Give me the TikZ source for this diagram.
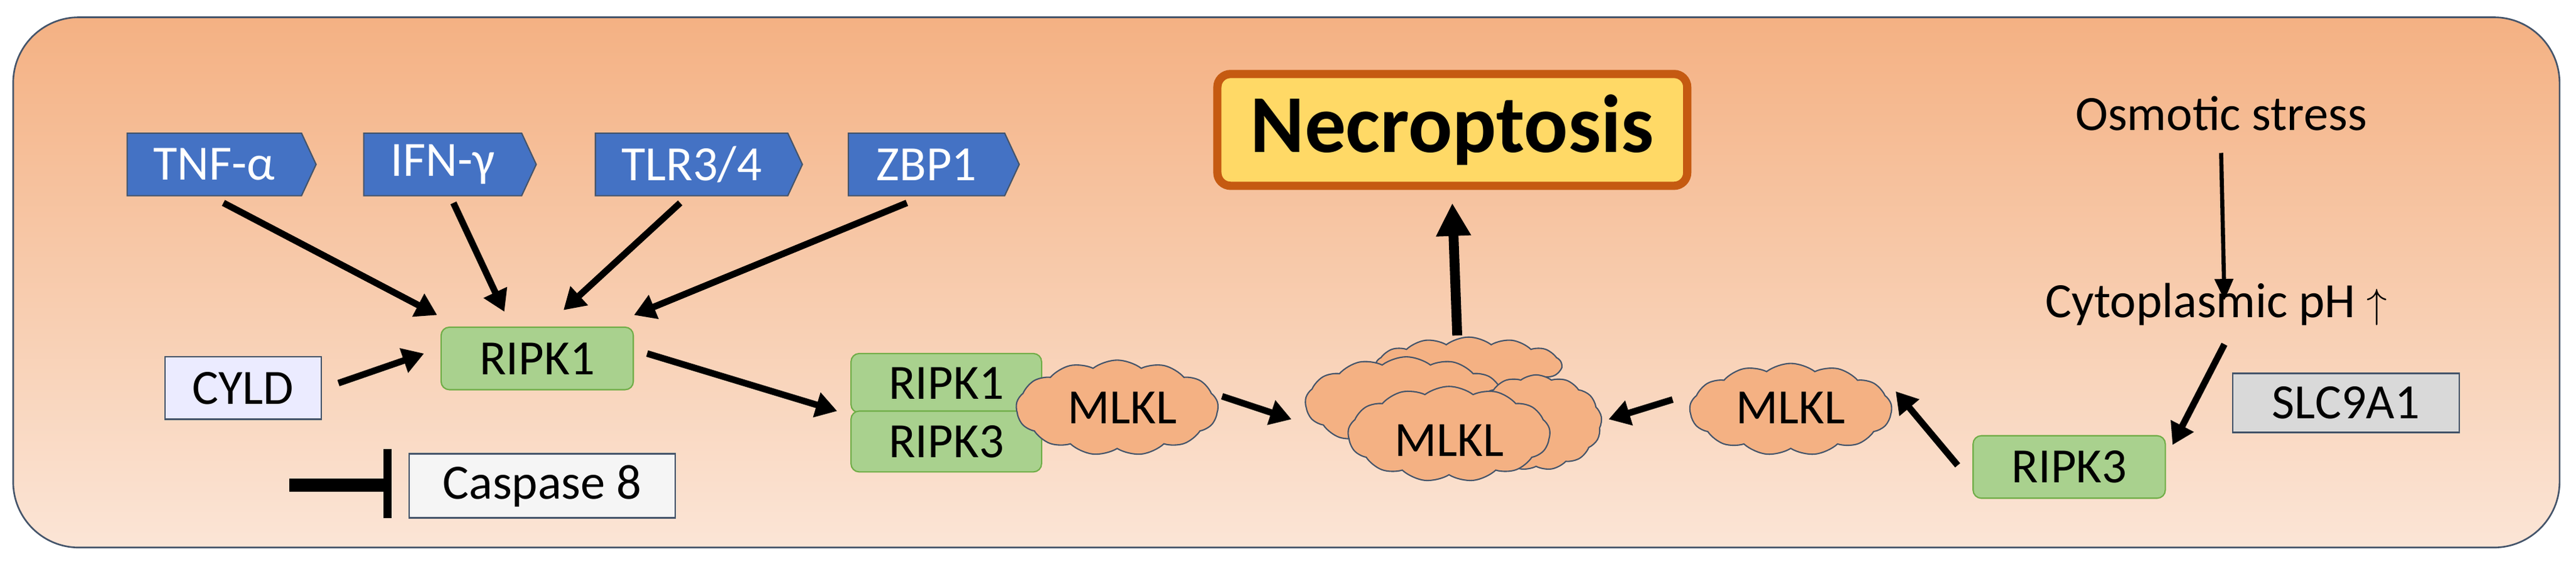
\documentclass[tikz,border=0pt]{standalone}
\usepackage{fontspec}
\setmainfont{Carlito}
\usetikzlibrary{shapes.symbols,shapes.arrows,arrows.meta}
\definecolor{bgtop}{HTML}{F4B183}
\definecolor{bgbot}{HTML}{FBE5D6}
\definecolor{sigblue}{HTML}{4472C4}
\definecolor{grn}{HTML}{A9D18E}
\definecolor{grnb}{HTML}{70AD47}
\definecolor{mlk}{HTML}{F4B183}
\definecolor{edge}{HTML}{44546A}
\definecolor{necf}{HTML}{FFD966}
\definecolor{necb}{HTML}{C55A11}
\begin{document}
\begin{tikzpicture}[x=1pt,y=-1pt,
 fnt/.style={font=\fontsize{30}{32}\selectfont},
 sig/.style={signal,signal to=east,signal pointer angle=130,fill=sigblue,draw=edge,line width=0.8pt,text=white,fnt,minimum height=38pt,inner xsep=2pt,anchor=west},
 gbox/.style={rectangle,rounded corners=5pt,fill=grn,draw=grnb,line width=0.8pt,fnt,inner sep=0pt},
 pbox/.style={rectangle,draw=edge,line width=1pt,fnt,inner sep=0pt},
 blob/.style={cloud,cloud puffs=13,cloud puff arc=75,fill=mlk,draw=edge,line width=0.8pt,inner sep=0pt},
 ar/.style={-{Triangle[length=13pt,width=15pt]},line width=4pt},
 tx/.style={fnt}]
\useasboundingbox (0,0) rectangle (1568,343);
\shade[top color=bgtop,bottom color=bgbot,draw=edge,line width=1pt,rounded corners=40pt] (8,10.5) rectangle (1558,333);
\node[sig,minimum width=115pt] (tnf) at (77,100) {TNF-α};
\node[sig,minimum width=105pt] (ifn) at (221,100) {IFN-γ};
\node[sig,minimum width=126pt] (tlr) at (362,100) {TLR3/4};
\node[sig,minimum width=104pt] (zbp) at (516,100) {ZBP1};
\node[gbox,minimum width=117pt,minimum height=38pt] (r1) at (327,218) {RIPK1};
\node[pbox,fill=blue!8!white,minimum width=95pt,minimum height=38pt] (cyld) at (148,236) {CYLD};
\node[pbox,fill=black!4,minimum width=162pt,minimum height=39pt] (casp) at (330,295.5) {Caspase 8};
\coordinate (ib) at (176,295);
\coordinate (ie) at (234,295);
\draw[line width=8pt] (ib) -- (ie);
\draw[line width=5pt] (236,273) coordinate (bt) -- (236,315) coordinate (bb);
\node[gbox,minimum width=116pt,minimum height=36pt] (c1) at (576,233) {RIPK1};
\node[gbox,minimum width=116pt,minimum height=37pt] (c3) at (576,268.5) {RIPK3};
\node[blob,minimum width=123pt,minimum height=58pt] (m1) at (680,248) {};
\node[fnt] (m1t) at (683,248) {MLKL};
\node[blob,minimum width=113pt,minimum height=34pt] (k1) at (894,222) {};
\node[blob,minimum width=123pt,minimum height=56pt] (k2) at (856,245) {};
\node[blob,minimum width=80pt,minimum height=58pt] (k3) at (935,257) {};
\node[blob,minimum width=123pt,minimum height=58pt] (mc) at (882,264) {};
\node[fnt] (mct) at (882,268) {MLKL};
\node[blob,minimum width=123pt,minimum height=56pt] (m2) at (1090,249) {};
\node[fnt] (m2t) at (1090,248) {MLKL};
\node[gbox,minimum width=117pt,minimum height=38pt] (rr3) at (1259.5,284) {RIPK3};
\node[pbox,fill=black!15,minimum width=138pt,minimum height=36pt] (slc) at (1428,245) {SLC9A1};
\node[tx] (os) at (1352,69) {Osmotic stress};
\node[tx] (ph) at (1349,185) {Cytoplasmic pH $\uparrow$};
\node[rectangle,rounded corners=8pt,fill=necf,draw=necb,line width=5pt,minimum width=286pt,minimum height=68pt,font=\fontsize{50}{52}\selectfont\bfseries] (nec) at (884,79) {Necroptosis};
\draw[ar] ([shift={(59,4)}]tnf.south west) -- ([shift={(-2,-7)}]r1.north west);
\draw[ar] ([shift={(55,4)}]ifn.south west) -- ([shift={(-20,-9)}]r1.north);
\draw[ar] ([shift={(52,4)}]tlr.south west) -- ([shift={(16,-10)}]r1.north);
\draw[ar] ([shift={(36,4)}]zbp.south west) -- ([shift={(0,-7)}]r1.north east);
\draw[ar] ([shift={(10,-3)}]cyld.east) -- ([shift={(-10,-3)}]r1.west);
\draw[ar] ([shift={(8,-3)}]r1.east) -- ([shift={(-8,17)}]c1.west);
\draw[ar] ([xshift=2pt,yshift=7pt]m1.east) -- ([xshift=-8pt]k2.west |- 0,255);
\draw[ar] ([xshift=-10pt,yshift=6pt]m2.west) -- ([xshift=4pt]k3.east |- 0,255);
\draw[ar] ([xshift=-9pt,yshift=1pt]rr3.west) -- ([xshift=2pt,yshift=11pt]m2.east);
\draw[-{Triangle[length=20pt,width=20pt]},line width=6pt] (887,204) coordinate (nb) -- ([yshift=-8pt]nec.south);
\draw[-{Triangle[length=13pt,width=11pt]},line width=2.5pt] ([yshift=-10pt]os.south) -- ([yshift=-14pt,xshift=5pt]ph.north);
\draw[ar] ([yshift=-8pt,xshift=5pt]ph.south) -- ([xshift=4pt,yshift=-6pt]rr3.north east);
\end{tikzpicture}
\end{document}
